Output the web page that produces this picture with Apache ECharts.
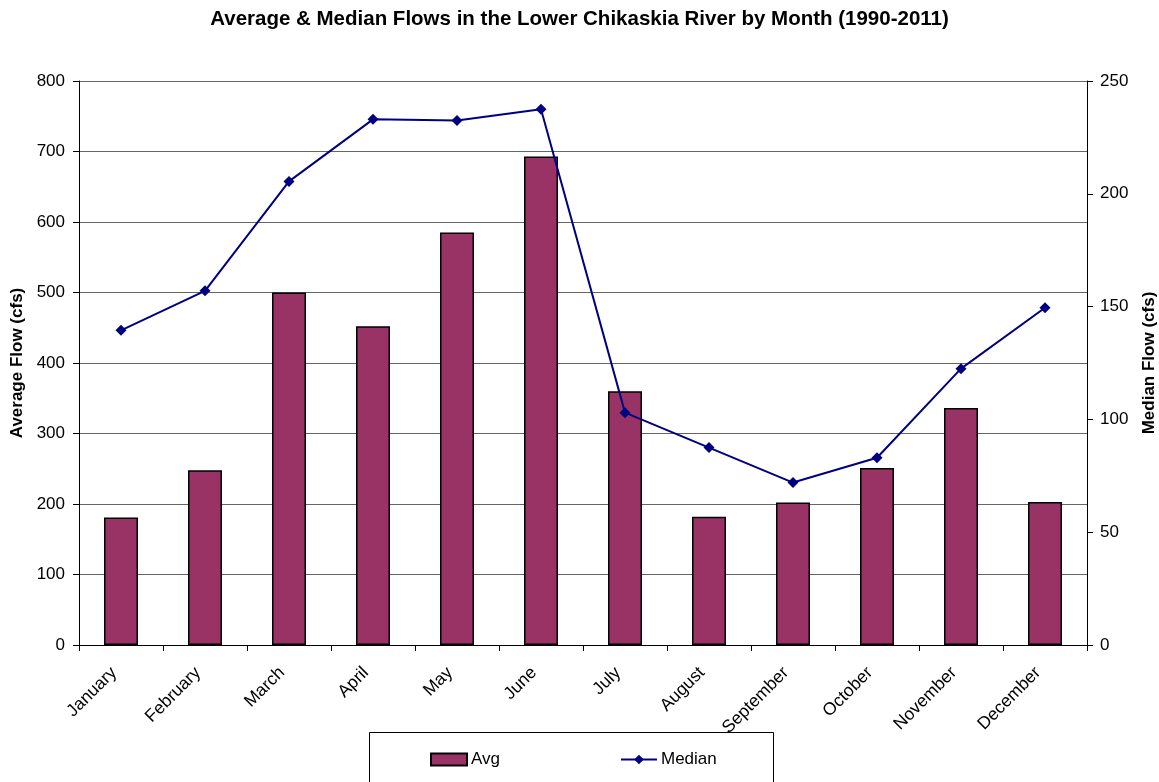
<!DOCTYPE html>
<html>
<head>
<meta charset="utf-8">
<script src="https://cdn.jsdelivr.net/npm/echarts@6/dist/echarts.min.js"></script>
<style>
  html, body { margin: 0; padding: 0; background: #fff; overflow: hidden; }
  #chart { width: 1159px; height: 782px; }
</style>
</head>
<body>
<div id="chart"></div>
<script>
// Monthly flow statistics, Lower Chikaskia River, 1990-2011
const months = ['January', 'February', 'March', 'April', 'May', 'June',
                'July', 'August', 'September', 'October', 'November', 'December'];
const avgFlow = [181, 248, 500, 452, 585, 693, 360, 182, 202, 251, 336, 203];
const medianFlow = [139.5, 157, 205.5, 233, 232.5, 237.5, 103, 87.5, 72, 83, 122.5, 149.5];

const FONT = 'Liberation Sans, Arial, sans-serif';

const chart = echarts.init(document.getElementById('chart'));
chart.setOption({
  backgroundColor: '#fff',
  animation: false,
  title: {
    text: 'Average & Median Flows in the Lower Chikaskia River by Month (1990-2011)',
    left: 'center',
    top: 4,
    textStyle: { fontFamily: FONT, fontSize: 20.5, fontWeight: 'bold', color: '#000' }
  },
  grid: {
    left: 79, right: 72, top: 81, bottom: 137,
    containLabel: false,
    outerBoundsMode: 'none'
  },
  // White legend frame, drawn over the axis labels it overlaps
  graphic: [{
    type: 'rect',
    z: 3,
    shape: { x: 369.5, y: 732.5, width: 404, height: 60 },
    style: { fill: '#fff', stroke: '#000', lineWidth: 1 }
  }],
  legend: {
    z: 6,
    left: 425,
    top: 746,
    itemGap: 120,
    itemWidth: 36,
    itemHeight: 12,
    textStyle: { fontFamily: FONT, fontSize: 17, color: '#000', padding: [0, 0, 0, -1] },
    data: [
      { name: 'Avg', icon: 'rect' },
      { name: 'Median' }
    ]
  },
  xAxis: {
    type: 'category',
    data: months,
    boundaryGap: true,
    axisLine: { lineStyle: { color: '#000', width: 1 } },
    axisTick: { show: true, alignWithLabel: false, length: 6, lineStyle: { color: '#000' } },
    axisLabel: {
      rotate: 45,
      interval: 0,
      margin: 18,
      padding: [0, 10, 0, 0],
      fontFamily: FONT,
      fontSize: 17.5,
      color: '#000'
    }
  },
  yAxis: [{
    type: 'value',
    min: 0, max: 800, interval: 100,
    name: 'Average Flow (cfs)',
    nameLocation: 'middle',
    nameGap: 52,
    nameTextStyle: { fontFamily: FONT, fontSize: 17, fontWeight: 'bold', color: '#000' },
    axisLine: { show: true, lineStyle: { color: '#000' } },
    axisTick: { show: true, length: 6, inside: false, lineStyle: { color: '#000' } },
    axisLabel: { fontFamily: FONT, fontSize: 17, color: '#000', margin: 14 },
    splitLine: { show: true, lineStyle: { color: '#666', width: 1 } }
  }, {
    type: 'value',
    position: 'right',
    min: 0, max: 250, interval: 50,
    name: 'Median Flow (cfs)',
    nameLocation: 'middle',
    nameGap: 54,
    nameTextStyle: { fontFamily: FONT, fontSize: 17, fontWeight: 'bold', color: '#000' },
    axisLine: { show: true, lineStyle: { color: '#000' } },
    axisTick: { show: true, length: 6, lineStyle: { color: '#000' } },
    axisLabel: { fontFamily: FONT, fontSize: 17, color: '#000', margin: 13 },
    splitLine: { show: false }
  }],
  series: [{
    name: 'Avg',
    type: 'bar',
    data: avgFlow,
    barWidth: 34,
    itemStyle: { color: '#993366', borderColor: '#000', borderWidth: 1.5 }
  }, {
    name: 'Median',
    type: 'line',
    yAxisIndex: 1,
    data: medianFlow,
    symbol: 'diamond',
    symbolSize: 11,
    lineStyle: { color: '#000080', width: 2 },
    itemStyle: { color: '#000080' },
    z: 5
  }]
});
</script>
</body>
</html>
